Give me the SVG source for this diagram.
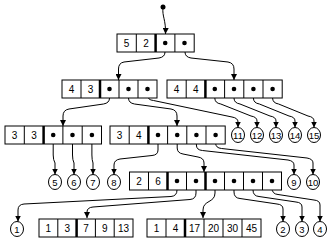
<svg xmlns="http://www.w3.org/2000/svg" width="333" height="243" viewBox="0 0 333 243">
<defs>
<style>
.c{fill:#fff;stroke:#000;stroke-width:1}
.s{stroke:#000;stroke-width:1;fill:none}
.k{stroke:#000;stroke-width:2.5}
.t{font-family:"Liberation Sans",Arial,sans-serif;font-size:10px;text-anchor:middle;fill:#000}
.lt{font-family:"Liberation Sans",Arial,sans-serif;font-size:9.5px;text-anchor:middle;fill:#000}
.d{fill:#000}
.e{fill:none;stroke:#000;stroke-width:1;marker-end:url(#ah)}
</style>
<marker id="ah" markerUnits="userSpaceOnUse" markerWidth="6" markerHeight="6" refX="5" refY="2.5" orient="auto" viewBox="0 0 5 5">
<path d="M0,0 L5,2.5 L0,5 z" fill="#000"/>
</marker>
</defs>
<rect width="333" height="243" fill="#fff"/>

<g id="connectors">
<circle class="d" cx="163" cy="7" r="2.5"/>
<path class="e" d="M163,8 C162,16 166,20 165.5,34"/>
<path class="e" d="M165,43 L165,52 Q165,57 159,58 L124,62 Q118.5,63 118.5,69 L118.5,80"/>
<path class="e" d="M185,43 L185,52 Q185,57 191,58 L228,62 Q234,63 234,69 L234,80"/>
<path class="e" d="M109.5,89 L109.5,98 Q109.5,103 103.5,104 L69,109 Q63,110 63,116 L63,126"/>
<path class="e" d="M128.5,89 L128.5,98 Q128.5,103 134.5,104 L171,109 Q177,110 177,116 L177,126"/>
<path class="e" d="M147.5,89 L147.5,95 Q147.5,100 153.5,100.5 L232,117 Q238,118 238,122 L238,127.5"/>
<path class="e" d="M214.8,89 L214.8,98 Q214.8,103 220.8,104 L251,116 Q257,117 257,121 L257,127.5"/>
<path class="e" d="M234,89 L234,98 Q234,103 240,104 L270,116 Q276,117 276,121 L276,127.5"/>
<path class="e" d="M253.4,89 L253.4,98 Q253.4,103 259.4,104 L289,116 Q295,117 295,121 L295,127.5"/>
<path class="e" d="M272.6,89 L272.6,98 Q272.6,103 278.6,104 L308,116 Q314,117 314,121 L314,127.5"/>
<path class="e" d="M53.2,135 L53.2,155 Q53.2,160 55,163 L55,174.5"/>
<path class="e" d="M72.5,135 L72.5,155 Q72.5,160 74,163 L74,174.5"/>
<path class="e" d="M91.9,135 L91.9,155 Q91.9,160 93,163 L93,174.5"/>
<path class="e" d="M158,135 L158,150 Q158,155 152,155.5 L120,159 Q114,160 114,165 L114,174.5"/>
<path class="e" d="M177.2,135 L177.2,148 Q177.2,153 183,154 L198,157 Q204,158 204,163 L204,172"/>
<path class="e" d="M196.4,135 L196.4,145 Q196.4,150 202.4,150.5 L288,160 Q294,161 294,165 L294,174.5"/>
<path class="e" d="M215.6,135 L215.6,143 Q215.6,148 221.6,148.5 L307,158 Q313,159 313,163 L313,174.5"/>
<path class="e" d="M177,181 L177,190 Q177,196 171,196.5 L24,204 Q18,204.5 18,210 L18,221.5"/>
<path class="e" d="M196,181 L196,193 Q196,199 190,199.5 L93,207 Q87,207.5 87,212 L87,218"/>
<path class="e" d="M215,181 L215,193 C215,203 203,200 203,210 L203,218"/>
<path class="e" d="M234,181 L234,192 Q234,198 240,198.5 L277,204 Q283,204.5 283,209 L283,221.5"/>
<path class="e" d="M253,181 L253,190 Q253,196 259,196.5 L296,202 Q302,202.5 302,207 L302,221.5"/>
<path class="e" d="M272,181 L272,188 Q272,194 278,194.5 L314,200 Q320,200.5 320,205 L320,221.5"/>
</g>

<g id="root">
<rect class="c" x="117" y="34" width="77.2" height="18"/>
<path class="s" d="M136.3,34 V52 M174.9,34 V52"/>
<path class="k" d="M155.6,34 V52"/>
<text class="t" x="126.6" y="47">5</text>
<text class="t" x="146" y="47">2</text>
<circle class="d" cx="165.2" cy="43" r="2.3"/>
<circle class="d" cx="184.5" cy="43" r="2.3"/>
</g>

<g id="n43">
<rect class="c" x="62" y="80" width="95" height="18"/>
<path class="s" d="M81,80 V98 M119,80 V98 M138,80 V98"/>
<path class="k" d="M100,80 V98"/>
<text class="t" x="71.5" y="93">4</text>
<text class="t" x="90.5" y="93">3</text>
<circle class="d" cx="109.5" cy="89" r="2.3"/>
<circle class="d" cx="128.5" cy="89" r="2.3"/>
<circle class="d" cx="147.5" cy="89" r="2.3"/>
</g>

<g id="n44">
<rect class="c" x="167" y="80" width="115.2" height="18"/>
<path class="s" d="M186.2,80 V98 M224.6,80 V98 M243.8,80 V98 M263,80 V98"/>
<path class="k" d="M205.4,80 V98"/>
<text class="t" x="176.6" y="93">4</text>
<text class="t" x="195.8" y="93">4</text>
<circle class="d" cx="214.8" cy="89" r="2.3"/>
<circle class="d" cx="234" cy="89" r="2.3"/>
<circle class="d" cx="253.4" cy="89" r="2.3"/>
<circle class="d" cx="272.6" cy="89" r="2.3"/>
</g>

<g id="n33">
<rect class="c" x="5" y="126" width="96.5" height="18"/>
<path class="s" d="M24.3,126 V144 M62.9,126 V144 M82.2,126 V144"/>
<path class="k" d="M43.6,126 V144"/>
<text class="t" x="14.6" y="139">3</text>
<text class="t" x="34" y="139">3</text>
<circle class="d" cx="53.2" cy="135" r="2.3"/>
<circle class="d" cx="72.5" cy="135" r="2.3"/>
<circle class="d" cx="91.9" cy="135" r="2.3"/>
</g>

<g id="n34">
<rect class="c" x="110" y="126" width="115.2" height="18"/>
<path class="s" d="M129.2,126 V144 M167.6,126 V144 M186.8,126 V144 M206,126 V144"/>
<path class="k" d="M148.4,126 V144"/>
<text class="t" x="119.6" y="139">3</text>
<text class="t" x="138.8" y="139">4</text>
<circle class="d" cx="158" cy="135" r="2.3"/>
<circle class="d" cx="177.2" cy="135" r="2.3"/>
<circle class="d" cx="196.4" cy="135" r="2.3"/>
<circle class="d" cx="215.6" cy="135" r="2.3"/>
</g>

<g id="n26">
<rect class="c" x="129.5" y="172" width="152" height="18"/>
<path class="s" d="M148.5,172 V190 M186.5,172 V190 M224.5,172 V190 M243.5,172 V190 M262.5,172 V190"/>
<path class="k" d="M167.5,172 V190 M205.5,172 V190"/>
<text class="t" x="139" y="185">2</text>
<text class="t" x="158" y="185">6</text>
<circle class="d" cx="177" cy="181" r="2.3"/>
<circle class="d" cx="196" cy="181" r="2.3"/>
<circle class="d" cx="215" cy="181" r="2.3"/>
<circle class="d" cx="234" cy="181" r="2.3"/>
<circle class="d" cx="253" cy="181" r="2.3"/>
<circle class="d" cx="272" cy="181" r="2.3"/>
</g>

<g id="leafA">
<rect class="c" x="39" y="219" width="94" height="18"/>
<path class="s" d="M57.8,219 V237 M95.4,219 V237 M114.2,219 V237"/>
<path class="k" d="M76.6,219 V237"/>
<text class="t" x="48.4" y="232">1</text>
<text class="t" x="67.2" y="232">3</text>
<text class="t" x="86" y="232">7</text>
<text class="t" x="104.8" y="232">9</text>
<text class="t" x="123.6" y="232">13</text>
</g>

<g id="leafB">
<rect class="c" x="147" y="219" width="114" height="18"/>
<path class="s" d="M166,219 V237 M204,219 V237 M223,219 V237 M242,219 V237"/>
<path class="k" d="M185,219 V237"/>
<text class="t" x="156.5" y="232">1</text>
<text class="t" x="175.5" y="232">4</text>
<text class="t" x="194.5" y="232">17</text>
<text class="t" x="213.5" y="232">20</text>
<text class="t" x="232.5" y="232">30</text>
<text class="t" x="251.5" y="232">45</text>
</g>

<g id="leaf1"><ellipse class="c" cx="17" cy="229" rx="6.5" ry="7.5"/><text class="lt" x="17" y="232.5">1</text></g>
<g id="leaf2"><ellipse class="c" cx="283" cy="229" rx="6.5" ry="7.5"/><text class="lt" x="283" y="232.5">2</text></g>
<g id="leaf3"><ellipse class="c" cx="302" cy="229" rx="6.5" ry="7.5"/><text class="lt" x="302" y="232.5">3</text></g>
<g id="leaf4"><ellipse class="c" cx="320" cy="229" rx="6.5" ry="7.5"/><text class="lt" x="320" y="232.5">4</text></g>
<g id="leaf5"><ellipse class="c" cx="55" cy="182" rx="6.5" ry="7.5"/><text class="lt" x="55" y="185.5">5</text></g>
<g id="leaf6"><ellipse class="c" cx="74" cy="182" rx="6.5" ry="7.5"/><text class="lt" x="74" y="185.5">6</text></g>
<g id="leaf7"><ellipse class="c" cx="93" cy="182" rx="6.5" ry="7.5"/><text class="lt" x="93" y="185.5">7</text></g>
<g id="leaf8"><ellipse class="c" cx="114" cy="182" rx="6.5" ry="7.5"/><text class="lt" x="114" y="185.5">8</text></g>
<g id="leaf9"><ellipse class="c" cx="294" cy="182" rx="6.5" ry="7.5"/><text class="lt" x="294" y="185.5">9</text></g>
<g id="leaf10"><ellipse class="c" cx="313" cy="182" rx="6.5" ry="7.5"/><text class="lt" x="313" y="185.5">10</text></g>
<g id="leaf11"><ellipse class="c" cx="238" cy="135" rx="6.5" ry="7.5"/><text class="lt" x="238" y="138.5">11</text></g>
<g id="leaf12"><ellipse class="c" cx="257" cy="135" rx="6.5" ry="7.5"/><text class="lt" x="257" y="138.5">12</text></g>
<g id="leaf13"><ellipse class="c" cx="276" cy="135" rx="6.5" ry="7.5"/><text class="lt" x="276" y="138.5">13</text></g>
<g id="leaf14"><ellipse class="c" cx="295" cy="135" rx="6.5" ry="7.5"/><text class="lt" x="295" y="138.5">14</text></g>
<g id="leaf15"><ellipse class="c" cx="314" cy="135" rx="6.5" ry="7.5"/><text class="lt" x="314" y="138.5">15</text></g>
</svg>
